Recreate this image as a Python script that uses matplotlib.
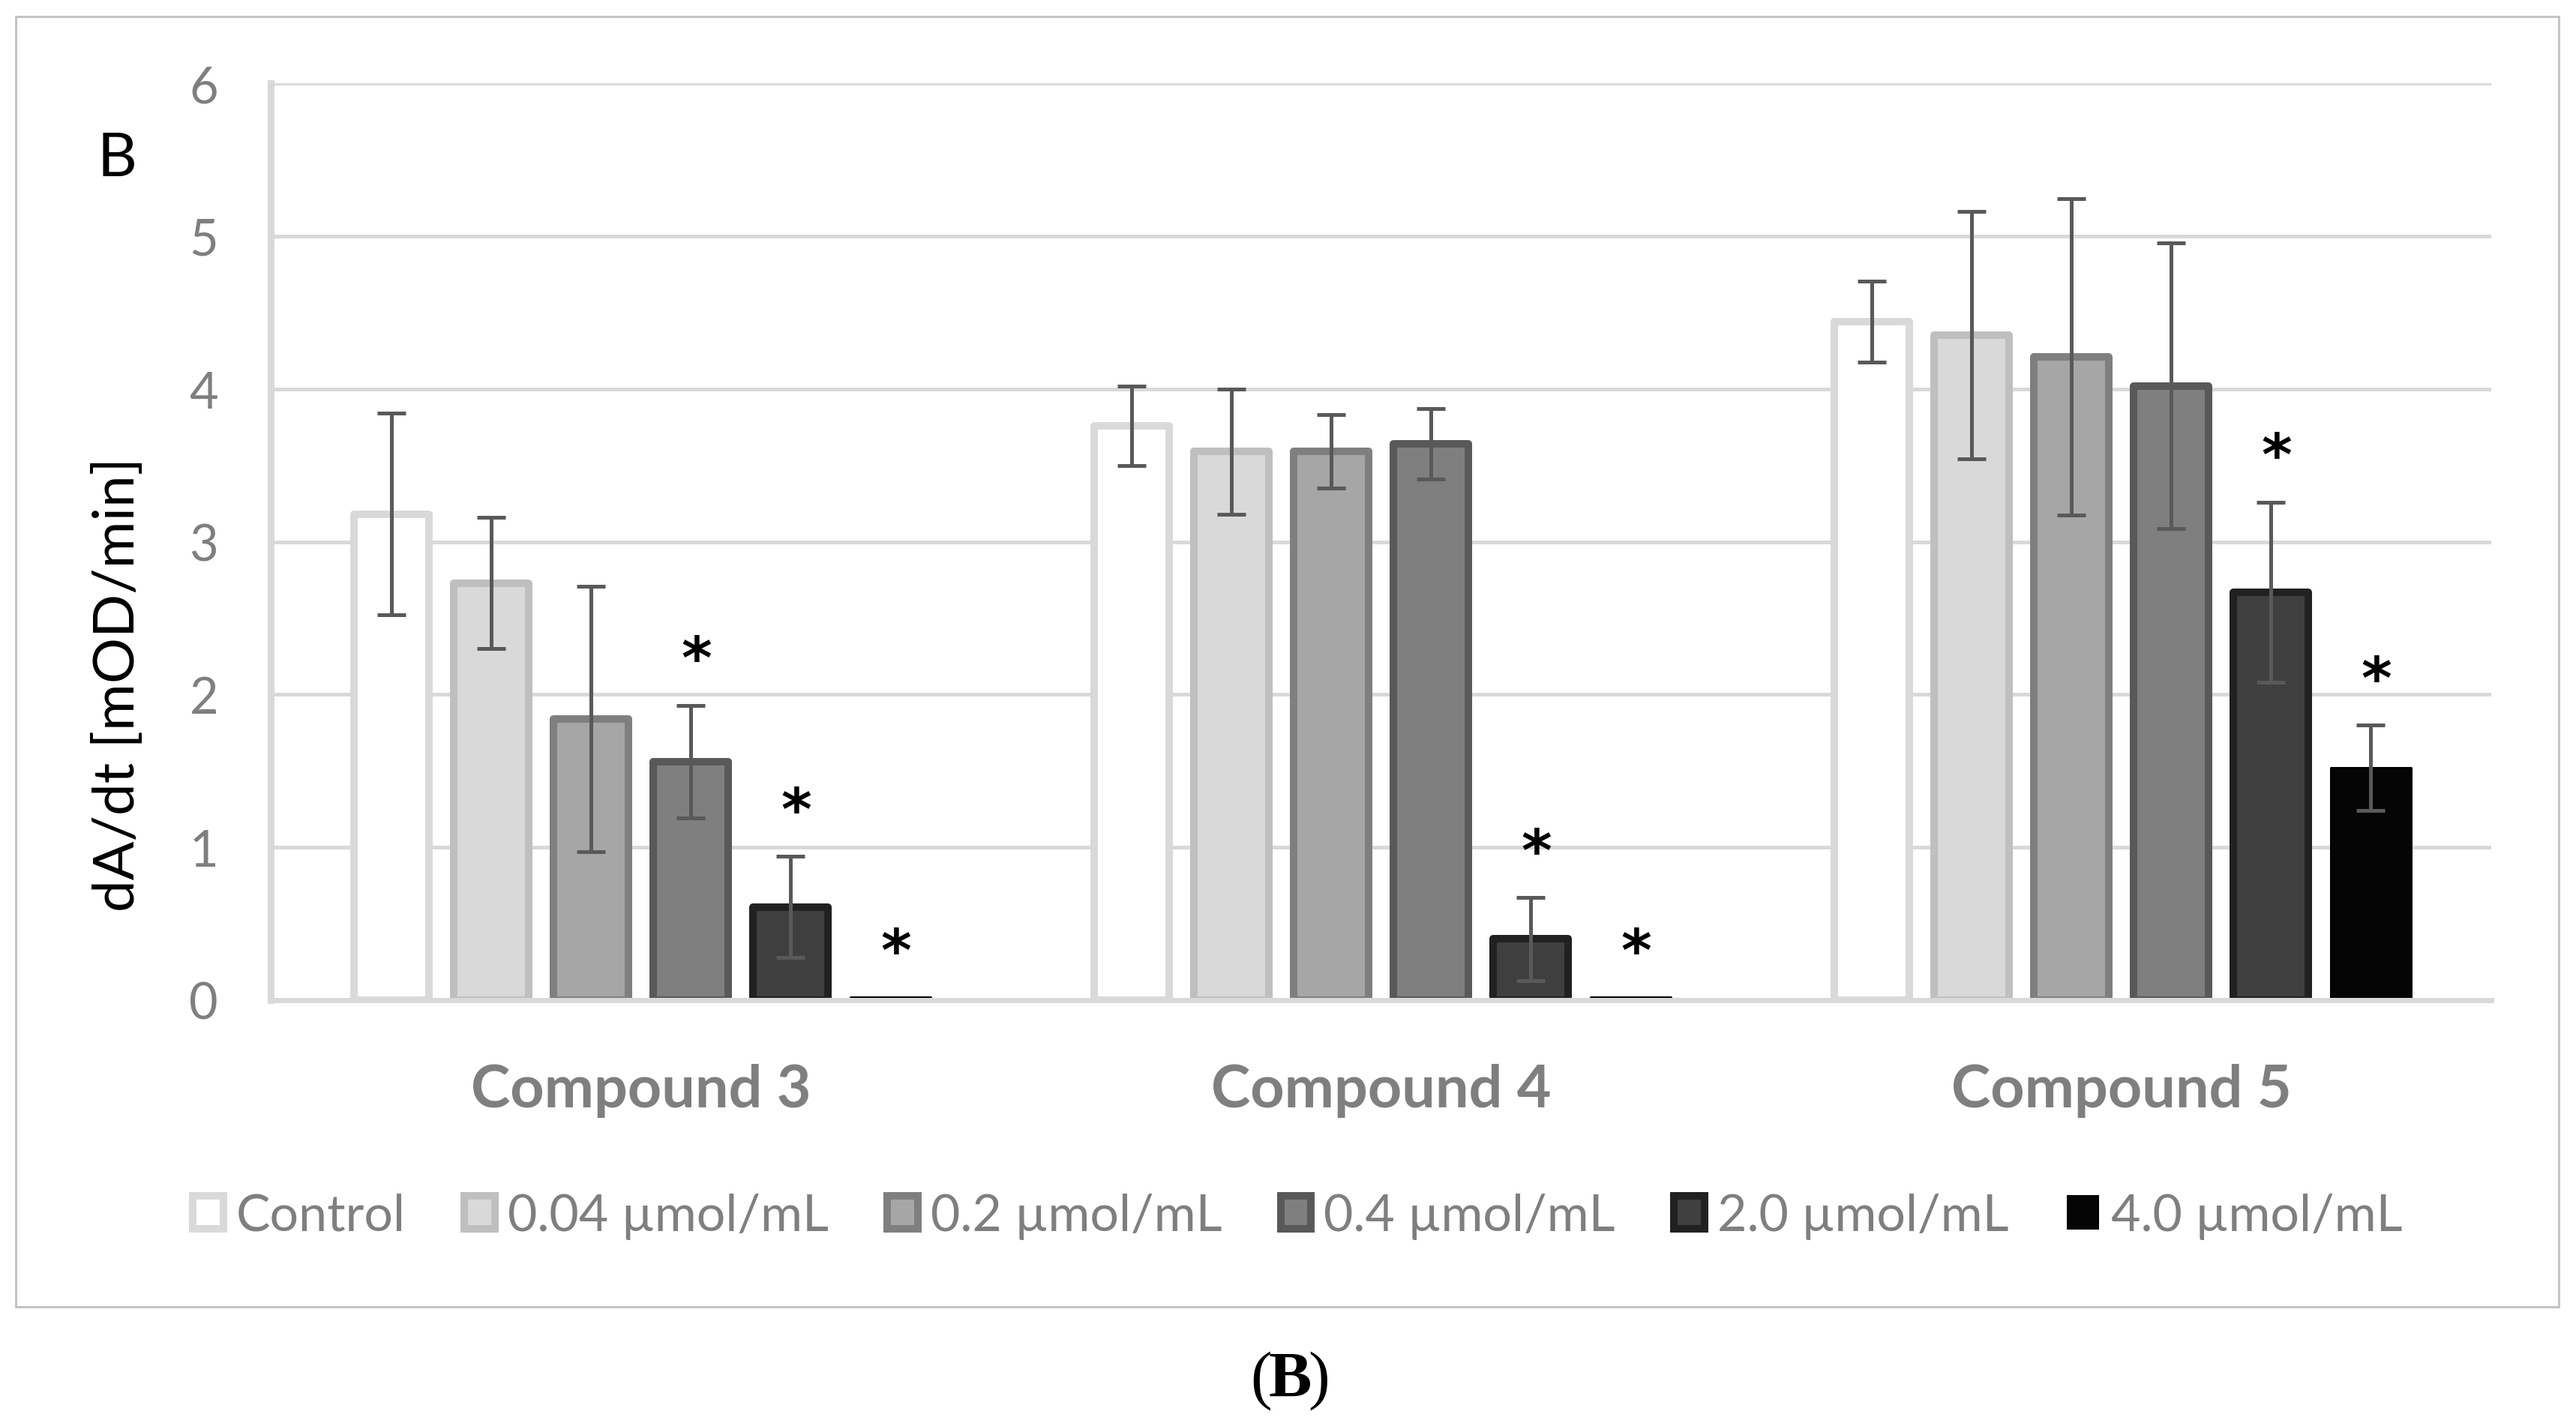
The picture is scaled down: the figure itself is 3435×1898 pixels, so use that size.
import numpy as np
import matplotlib
matplotlib.use("Agg")
import matplotlib.pyplot as plt
from matplotlib.patches import Patch, Rectangle

# ---------------- data ----------------
categories = ["Compound 3", "Compound 4", "Compound 5"]
series_names = ["Control", "0.04 µmol/mL", "0.2 µmol/mL", "0.4 µmol/mL", "2.0 µmol/mL", "4.0 µmol/mL"]

control_vals = [3.18, 3.76, 4.44]
c004_vals = [2.73, 3.59, 4.35]
c02_vals = [1.84, 3.59, 4.21]
c04_vals = [1.56, 3.64, 4.02]
c20_vals = [0.61, 0.40, 2.67]
c40_vals = [0.02, 0.02, 1.52]

control_err = [0.66, 0.26, 0.265]
c004_err = [0.43, 0.41, 0.81]
c02_err = [0.87, 0.24, 1.035]
c04_err = [0.37, 0.23, 0.935]
c20_err = [0.33, 0.27, 0.59]
c40_err = [np.nan, np.nan, 0.28]

control_sig = [False, False, False]
c004_sig = [False, False, False]
c02_sig = [False, False, False]
c04_sig = [True, False, False]
c20_sig = [True, True, True]
c40_sig = [True, True, True]

yticks = [0, 1, 2, 3, 4, 5, 6]

values = [control_vals, c004_vals, c02_vals, c04_vals, c20_vals, c40_vals]
errors = [control_err, c004_err, c02_err, c04_err, c20_err, c40_err]
sigs = [control_sig, c004_sig, c02_sig, c04_sig, c20_sig, c40_sig]

# ---------------- style ----------------
fills = ['#ffffff', '#d9d9d9', '#a6a6a6', '#7f7f7f', '#3f3f3f', '#050505']
edges = ['#d9d9d9', '#bfbfbf', '#7f7f7f', '#595959', '#212121', '#000000']
edge_px = [10, 10, 10, 10, 10, 3]

W, H = 3435, 1899
DPI = 100
PT = 72.0 / DPI  # points per pixel

plt.rcParams['font.family'] = ['Lato', 'DejaVu Sans']
fig = plt.figure(figsize=(W / DPI, H / DPI), dpi=DPI)

ax_l, ax_r, ax_t, ax_b = 361, 3322, 112, 1335
ax = fig.add_axes([ax_l / W, 1 - ax_b / H, (ax_r - ax_l) / W, (ax_b - ax_t) / H])

cat_px = (ax_r - ax_l) / 3.0
unit_px = (ax_b - ax_t) / 6.0
slot = 133 / cat_px
outer_w = 110 / cat_px
x = np.arange(len(categories))
gray_txt = '#7f7f7f'

star_fs = 56
star_dy = 0.40 - (0.58 * star_fs / PT) / unit_px  # baseline below glyph centre

for i, (vals, errs, sg) in enumerate(zip(values, errors, sigs)):
    xpos = x + (i - 2.5) * slot
    w = outer_w - edge_px[i] / cat_px
    bars = ax.bar(xpos, vals, width=w, color=fills[i], edgecolor=edges[i],
                  linewidth=edge_px[i] * PT, zorder=2, label=series_names[i])
    for b in bars:
        b.set_joinstyle('round')
    ax.errorbar(xpos, vals, yerr=errs, fmt='none', ecolor='#595959',
                elinewidth=5 * PT, capsize=19 * PT, capthick=5 * PT, zorder=3)
    for xp, v, e, s in zip(xpos, vals, errs, sg):
        if s:
            top = v + (0 if np.isnan(e) else e)
            ax.text(xp + 0.008, top + star_dy, '*', ha='center', va='baseline',
                    fontsize=star_fs, fontweight='bold', family='DejaVu Sans',
                    color='black', zorder=4)

ax.set_xlim(-0.5, 2.5)
ax.set_ylim(0, 6)
ax.set_yticks(yticks)
ax.set_yticklabels([str(t) for t in yticks])
ax.set_xticks(x)
ax.set_xticklabels(categories, fontsize=57, fontweight='bold', color=gray_txt)
ax.tick_params(axis='y', length=0, pad=70 * PT, labelsize=48, labelcolor=gray_txt)
ax.tick_params(axis='x', length=0, pad=84 * PT)

ax.grid(axis='y', color='#d9d9d9', linewidth=5 * PT, zorder=0)
ax.set_axisbelow(True)
for side in ['top', 'right']:
    ax.spines[side].set_visible(False)
ax.spines['left'].set_color('#d9d9d9')
ax.spines['left'].set_linewidth(9 * PT)
ax.spines['bottom'].set_color('#d9d9d9')
ax.spines['bottom'].set_linewidth(7 * PT)
ax.spines['bottom'].set_zorder(5)

# y label and panel letter
fig.text(158 / W, 1 - 913 / H, 'dA/dt [mOD/min]', rotation=90, ha='center', va='center',
         fontsize=55, color='black')
fig.text(156 / W, 1 - 212 / H, 'B', ha='center', va='center', fontsize=59, color='black')

# legend
handles = [Patch(facecolor=fills[i], edgecolor=edges[i], linewidth=10 * PT if i < 5 else 2 * PT)
           for i in range(6)]
leg = fig.legend(handles, series_names, loc='center', bbox_to_anchor=(1730 / W, 1 - 1623 / H),
                 ncol=6, frameon=False, fontsize=49, handlelength=0.6, handleheight=0.6,
                 handletextpad=0.25, columnspacing=1.15, borderpad=0)
for t in leg.get_texts():
    t.set_color(gray_txt)

# outer chart border
fig.patches.append(Rectangle((21 / W, 1 - 1744 / H), (3412 - 21) / W, (1744 - 23) / H,
                             transform=fig.transFigure, fill=False, edgecolor='#c4c4c4',
                             linewidth=3 * PT))

# caption (B)
cx, cy = 1720 / W, 1 - 1842 / H
fig.text(cx, cy, 'B', ha='center', va='center', fontsize=62, fontweight='bold',
         family='Liberation Serif', color='black')
fig.text(cx - 24 / W, cy, '(', ha='right', va='center', fontsize=62,
         family='Liberation Serif', color='black')
fig.text(cx + 24 / W, cy, ')', ha='left', va='center', fontsize=62,
         family='Liberation Serif', color='black')

fig.savefig('out.png', dpi=DPI)
